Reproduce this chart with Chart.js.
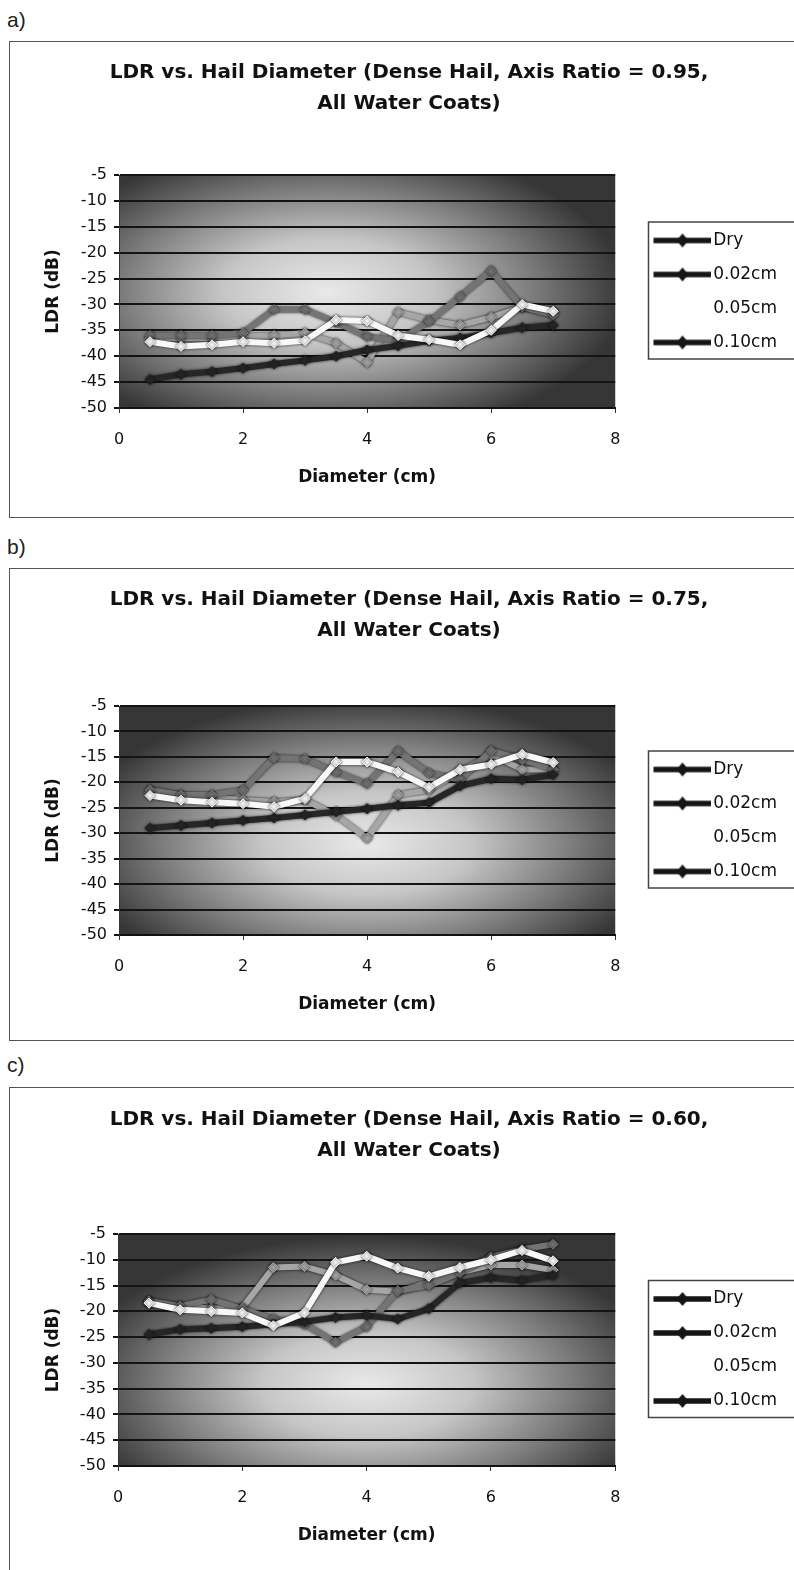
<!DOCTYPE html>
<html>
<head>
<meta charset="utf-8">
<title>LDR vs. Hail Diameter</title>
<script src="https://cdn.jsdelivr.net/npm/chart.js@4.4.1/dist/chart.umd.min.js"></script>
<style>
  html, body { margin: 0; padding: 0; background: #fff; overflow: hidden; }
  body { width: 794px; height: 1570px; position: relative; }
  .lbl { position: absolute; left: 7px; font: 21px "Liberation Sans", Arial, sans-serif; color: #222; }
  .box { position: absolute; left: 9px; width: 810px; border: 1px solid #555; box-sizing: border-box; }
  canvas { position: absolute; left: 9px; }
</style>
</head>
<body>

<div class="lbl" style="top:8px">a)</div>
<div class="box" style="top:41px;height:477px"></div>
<canvas id="chartA" width="800" height="476" style="top:41px"></canvas>

<div class="lbl" style="top:535px">b)</div>
<div class="box" style="top:568px;height:473px"></div>
<canvas id="chartB" width="800" height="472" style="top:568px"></canvas>

<div class="lbl" style="top:1053px">c)</div>
<div class="box" style="top:1087px;height:520px"></div>
<canvas id="chartC" width="800" height="483" style="top:1087px"></canvas>

<script>
// ---- data ----
const diameters = [0.5, 1, 1.5, 2, 2.5, 3, 3.5, 4, 4.5, 5, 5.5, 6, 6.5, 7];
const coatLabels = ["Dry", "0.02cm", "0.05cm", "0.10cm"];
const axisRatios = ["0.95", "0.75", "0.60"];

// a) axis ratio 0.95
const aDry = [-44.5, -43.5, -43, -42.3, -41.5, -40.8, -40, -38.8, -38, -37, -36.5, -35.5, -34.5, -34];
const a002 = [-36, -36, -36, -35.5, -31, -31, -33.5, -36.2, -37, -33.3, -28.5, -23.5, -30.5, -32];
const a005 = [-37.2, -38.1, -37.8, -37.2, -37.5, -37, -33, -33.2, -36, -36.8, -37.8, -35, -30, -31.3];
const a010 = [-36.5, -36.5, -36.5, -36.2, -36, -35.5, -37.5, -41.2, -31.5, -33, -34, -32.5, -30.5, -31.5];

// b) axis ratio 0.75
const bDry = [-29, -28.5, -28, -27.5, -27, -26.4, -25.8, -25.2, -24.5, -24, -20.7, -19.3, -19.5, -18.5];
const b002 = [-21.5, -22.5, -22.5, -21.5, -15.2, -15.4, -18, -20.3, -13.9, -18.2, -19.5, -13.8, -15.5, -17.5];
const b005 = [-22.6, -23.5, -23.9, -24.2, -24.8, -23.2, -16, -16, -18, -21, -17.5, -16.5, -14.5, -16.1];
const b010 = [-22, -22.8, -23, -23.5, -23.8, -23.5, -26.5, -31, -22.5, -21.5, -18, -14.5, -17.5, -17.5];

// c) axis ratio 0.60
const cDry = [-24.5, -23.5, -23.3, -23, -22.5, -22, -21.2, -20.8, -21.5, -19.5, -14.5, -13.5, -14, -13];
const c002 = [-18, -19, -17.7, -19.5, -21.5, -22.5, -26, -23, -16, -15, -12.5, -9.5, -8, -7];
const c005 = [-18.4, -19.7, -20, -20.3, -22.8, -20.3, -10.5, -9.3, -11.6, -13.2, -11.5, -10, -8.2, -10.2];
const c010 = [-18.5, -19, -19.5, -19.3, -11.5, -11.3, -13, -15.8, -16.2, -14.5, -12.5, -11, -11, -12];

const yMin = -50, yMax = -5, yStep = 5;
const xMin = 0, xMax = 8, xStep = 2;

// ---- look ----
const FONT = "'DejaVu Sans', 'Liberation Sans', Arial, sans-serif";
const lineColors = ["#262626", "#747474", "#f8f8f8", "#a6a6a6"];
const legendColors = ["#151515", "#151515", "#ffffff", "#151515"];
const drawOrder = [1, 2, 0, 3];
const PAD_SIDE = 22;

// legend swatch: thick line with a diamond; the transparent left part
// keeps the gap between plot and legend frame
const SW_W = 86, SW_LINE = 28;
function makeSwatch(color) {
    const c = document.createElement("canvas");
    c.width = SW_W; c.height = 16;
    const g = c.getContext("2d");
    g.strokeStyle = color; g.fillStyle = color; g.lineWidth = 5.5;
    g.beginPath(); g.moveTo(SW_LINE, 8); g.lineTo(SW_W, 8); g.stroke();
    const mx = (SW_LINE + SW_W) / 2;
    g.beginPath(); g.moveTo(mx, 1); g.lineTo(mx + 6, 8); g.lineTo(mx, 15); g.lineTo(mx - 6, 8); g.closePath(); g.fill();
    return c;
}
const swatches = legendColors.map(makeSwatch);

// shaded plot area (light centre, dark rim)
const plotShade = {
    id: "plotShade",
    beforeDraw(chart, args, opts) {
        const { ctx, chartArea: a } = chart;
        const w = a.right - a.left, h = a.bottom - a.top;
        const cx = a.left + w * opts.cx, cy = a.top + h * opts.cy;
        const rx = w * 0.6, ry = h * 0.64;
        ctx.save();
        ctx.beginPath(); ctx.rect(a.left, a.top, w, h); ctx.clip();
        ctx.translate(cx, cy);
        ctx.scale(rx / ry, 1);
        const g = ctx.createRadialGradient(0, 0, 0, 0, 0, ry);
        g.addColorStop(0, "#e9e9e9");
        g.addColorStop(0.35, "#c6c6c6");
        g.addColorStop(0.7, "#7a7a7a");
        g.addColorStop(1, "#363636");
        ctx.fillStyle = g;
        ctx.fillRect(-3000, -3000, 6000, 6000);
        ctx.restore();
    }
};

// dark halo round the thick lines, as in the scan
const lineHalo = {
    id: "lineHalo",
    beforeDatasetDraw(chart) {
        const c = chart.ctx;
        c.save();
        c.shadowColor = "rgba(0,0,0,0.8)";
        c.shadowBlur = 3;
    },
    afterDatasetDraw(chart) { chart.ctx.restore(); }
};

// frame round the legend
const legendFrame = {
    id: "legendFrame",
    afterDraw(chart) {
        const hb = chart.legend && chart.legend.legendHitBoxes;
        if (!hb || !hb.length) return;
        const first = hb[0], last = hb[hb.length - 1];
        const ctx = chart.ctx;
        // swatch line starts SW_LINE px into the image, image is centred in the box
        const boxW = chart.options.plugins.legend.labels.pointStyleWidth;
        const lineStart = first.left + boxW / 2 - SW_W / 2 + SW_LINE;
        ctx.save();
        ctx.strokeStyle = "#444";
        ctx.lineWidth = 1.5;
        const top = first.top - 10, bottom = last.top + last.height + 8;
        ctx.strokeRect(lineStart - 5, top, chart.width, bottom - top);
        ctx.restore();
    }
};

function buildChart(id, ratio, series, p) {
    const datasets = series.map((vals, i) => ({
        label: coatLabels[i],
        data: diameters.map((d, k) => ({ x: d, y: vals[k] })),
        borderColor: lineColors[i],
        backgroundColor: lineColors[i],
        pointBackgroundColor: lineColors[i],
        pointBorderColor: lineColors[i],
        borderWidth: 6,
        pointStyle: "rectRot",
        pointRadius: 5,
        pointBorderWidth: 1,
        tension: 0,
        order: drawOrder[i]
    }));

    return new Chart(document.getElementById(id), {
        type: "line",
        data: { datasets },
        plugins: [plotShade, lineHalo, legendFrame],
        options: {
            responsive: false,
            animation: false,
            layout: { padding: { left: PAD_SIDE, right: PAD_SIDE, top: 0, bottom: p.padBottom } },
            plugins: {
                plotShade: { cx: p.cx, cy: p.cy },
                tooltip: { enabled: false },
                title: {
                    display: true,
                    text: ["LDR vs. Hail Diameter (Dense Hail, Axis Ratio = " + ratio + ",", "All Water Coats)"],
                    color: "#111",
                    font: { family: FONT, size: 20, weight: "bold", lineHeight: 1.55 },
                    padding: { top: p.titleTop, bottom: p.titleBottom }
                },
                legend: {
                    position: "right",
                    fullSize: false,
                    labels: {
                        usePointStyle: true,
                        pointStyleWidth: 72.5,
                        padding: 17,
                        color: "#111",
                        font: { family: FONT, size: 17 },
                        generateLabels(chart) {
                            return chart.data.datasets.map((ds, i) => ({
                                text: ds.label,
                                pointStyle: swatches[i],
                                datasetIndex: i,
                                hidden: false,
                                fontColor: "#111",
                                lineWidth: 0,
                                strokeStyle: "rgba(0,0,0,0)",
                                fillStyle: "rgba(0,0,0,0)"
                            }));
                        }
                    }
                }
            },
            scales: {
                x: {
                    type: "linear",
                    min: xMin, max: xMax,
                    ticks: { stepSize: xStep, padding: 17, color: "#111", font: { family: FONT, size: 16 } },
                    grid: { drawOnChartArea: false, drawTicks: true, tickLength: 5, color: "#333" },
                    border: { display: true, color: "#111", width: 2 },
                    title: {
                        display: true, text: "Diameter (cm)", color: "#111",
                        font: { family: FONT, size: 17, weight: "bold" },
                        padding: { top: 4, bottom: 0 }
                    },
                    afterFit(s) { s.height = 80; }
                },
                y: {
                    type: "linear",
                    min: yMin, max: yMax,
                    ticks: { stepSize: yStep, padding: 7, color: "#111", font: { family: FONT, size: 16 } },
                    grid: { color: "#141414", lineWidth: 2, tickLength: 5 },
                    border: { display: true, color: "#333", width: 1 },
                    title: {
                        display: true, text: "LDR (dB)", color: "#111",
                        font: { family: FONT, size: 17, weight: "bold" },
                        padding: { top: 34 - PAD_SIDE, bottom: 0 }
                    },
                    afterFit(s) { s.width = p.yWidth - PAD_SIDE; }
                }
            }
        }
    });
}

buildChart("chartA", axisRatios[0], [aDry, a002, a005, a010],
    { padBottom: 29, titleTop: 16.5, titleBottom: 55.5, yWidth: 110, cx: 0.42, cy: 0.5 });
buildChart("chartB", axisRatios[1], [bDry, b002, b005, b010],
    { padBottom: 25, titleTop: 16.5, titleBottom: 59.5, yWidth: 110, cx: 0.5, cy: 0.6 });
buildChart("chartC", axisRatios[2], [cDry, c002, c005, c010],
    { padBottom: 24, titleTop: 17.5, titleBottom: 67.5, yWidth: 109, cx: 0.5, cy: 0.65 });
</script>
</body>
</html>
